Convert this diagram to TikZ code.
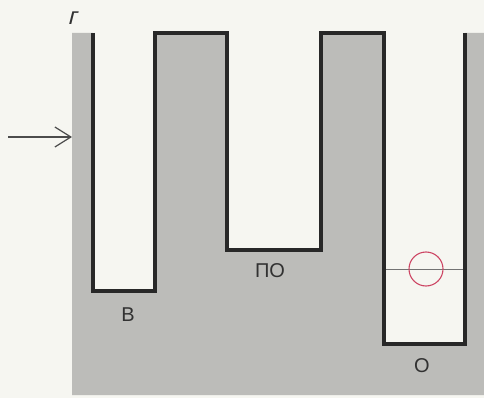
\documentclass[tikz,border=0pt]{standalone}
\usepackage{fontspec}
\setmainfont{Liberation Sans}
\newfontfamily\slantfont[FakeSlant=0.25]{Liberation Sans}
\usetikzlibrary{arrows.meta}
\definecolor{bgwhite}{RGB}{246,246,241}
\definecolor{fillgray}{RGB}{188,188,185}
\definecolor{wallline}{RGB}{40,40,40}
\definecolor{ringred}{RGB}{205,70,100}
\definecolor{textdark}{RGB}{50,50,50}
\tikzset{
  wall/.style={draw=wallline, line width=3.2pt, line join=miter},
  lbl/.style={text=textdark, font=\fontsize{20}{22}\selectfont, inner sep=0pt},
  levelline/.style={draw=gray!90!black, line width=0.9pt},
  ring/.style={draw=ringred, line width=1.1pt},
  pointer/.style={draw=gray!60!black, line width=1.2pt, -{Straight Barb[length=16pt,width=20pt,line width=1.2pt]}}
}
\begin{document}
\begin{tikzpicture}[x=1pt,y=-1pt]
\useasboundingbox (0,0) rectangle (484,398);
\fill[bgwhite] (0,0) rectangle (484,398);
% grey body
\fill[fillgray] (72,33) -- (93,33) -- (93,291) -- (155,291) -- (155,33) -- (227,33)
  -- (227,250) -- (321,250) -- (321,33) -- (384,33) -- (384,344) -- (465,344)
  -- (465,33) -- (484,33) -- (484,395) -- (72,395) -- cycle;
% level line and ring in the right well
\draw[levelline] (384,269) -- (465,269);
\draw[ring] (426,269) circle (17);
% outline
\draw[wall] (93,33) -- (93,291) -- (155,291) -- (155,33) -- (227,33) -- (227,250)
  -- (321,250) -- (321,33) -- (384,33) -- (384,344) -- (465,344) -- (465,33);
% labels
\node[lbl, font=\fontsize{24}{26}\selectfont\slantfont] (g) at (72,18) {г};
\node[lbl] (v) at (128,315) {В};
\node[lbl] (po) at (270,271) {ПО};
\node[lbl] (o) at (422,366) {О};
% arrow
\coordinate (arrtail) at (8,137);
\coordinate (arrhead) at (72,137);
\draw[pointer] (arrtail) -- (arrhead);
\end{tikzpicture}
\end{document}
